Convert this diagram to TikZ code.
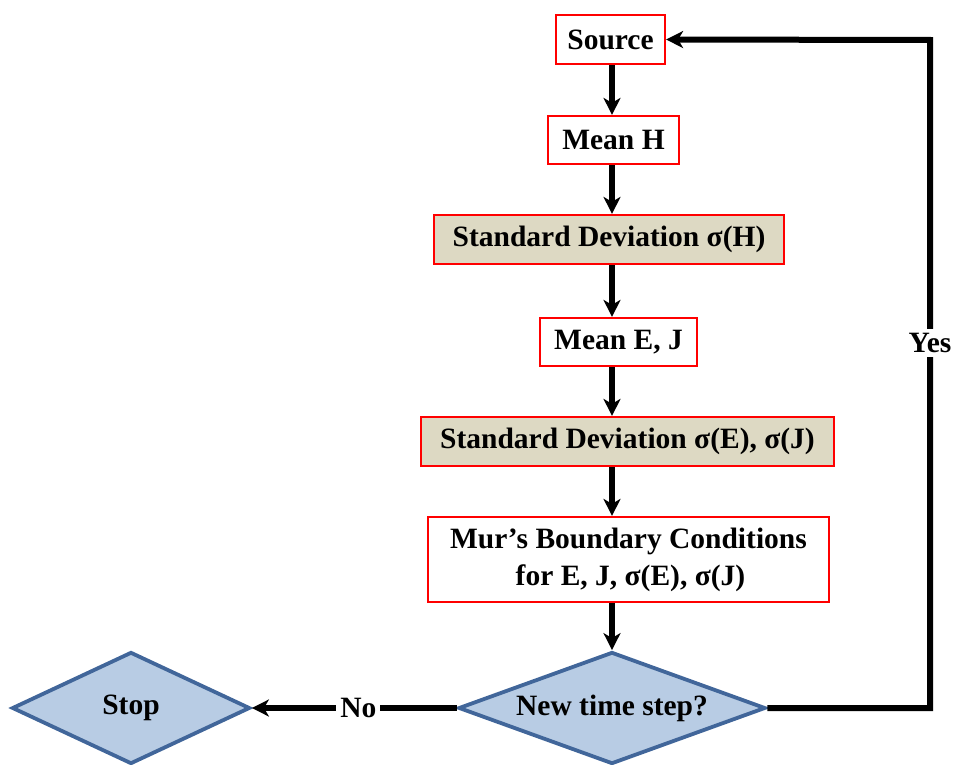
\documentclass[tikz,border=0pt]{standalone}
\usepackage{fontspec}
\setmainfont{Liberation Serif}
\usetikzlibrary{shapes.geometric,arrows.meta,calc}
\definecolor{boxred}{RGB}{255,0,0}
\definecolor{beige}{RGB}{221,217,195}
\definecolor{dblue}{RGB}{65,102,154}
\definecolor{lblue}{RGB}{184,204,228}
\tikzset{
  procbox/.style={draw=boxred, line width=2.2pt, fill=white, inner sep=0pt, font=\bfseries\fontsize{29.5}{37}\selectfont},
  stdbox/.style={procbox, fill=beige},
  decision/.style={diamond, draw=dblue, fill=lblue, line width=3.8pt, inner sep=0pt, aspect=2.7, font=\bfseries\fontsize{29.5}{34}\selectfont},
  flow/.style={line width=6pt, -{Stealth[length=17pt,width=17pt,inset=5pt]}},
  lbl/.style={fill=white, inner sep=4pt, font=\bfseries\fontsize{29.5}{34}\selectfont}
}
\begin{document}
\begin{tikzpicture}[x=1pt,y=-1pt]
\useasboundingbox (0,0) rectangle (953,765);
\node[procbox, minimum width=109pt, minimum height=49pt] (src) at (610.5,39.5) {Source};
\node[procbox, minimum width=131pt, minimum height=48pt] (mh) at (613.5,140) {Mean H};
\node[stdbox, minimum width=350pt, minimum height=49pt] (sh) at (609,239.5) {Standard Deviation σ(H)};
\node[procbox, minimum width=157pt, minimum height=48pt] (mej) at (618.5,342) {Mean E, J};
\node[stdbox, minimum width=413pt, minimum height=49pt] (sej) at (627.5,441.5) {Standard Deviation σ(E), σ(J)};
\node[procbox, minimum width=401pt, minimum height=85pt, align=center] (mur) at (628.5,559.5) {Mur’s Boundary Conditions\\\hspace*{4pt}for E, J, σ(E), σ(J)};
\node[decision, minimum width=307pt, minimum height=112pt] (nts) at (612,708) {New time step?};
\node[decision, minimum width=238pt, minimum height=112pt] (stop) at (131,708) {Stop};
\coordinate (cr) at (930,708);
\coordinate (tr) at (930,40);
\draw[flow] (src.south -| nts.north) -- (mh.north -| nts.north);
\draw[flow] (mh.south -| nts.north) -- (sh.north -| nts.north);
\draw[flow] (sh.south -| nts.north) -- (mej.north -| nts.north);
\draw[flow] (mej.south -| nts.north) -- (sej.north -| nts.north);
\draw[flow] (sej.south -| nts.north) -- (mur.north -| nts.north);
\draw[flow] (mur.south -| nts.north) -- (nts.north);
\draw[flow] (nts.west) -- node[lbl, pos=0.48] (no) {No} (stop.east);
\draw[flow] (nts.east) -- (cr) -- node[lbl, pos=0.546] (yes) {Yes} (tr) -- (src.east);
\end{tikzpicture}
\end{document}
